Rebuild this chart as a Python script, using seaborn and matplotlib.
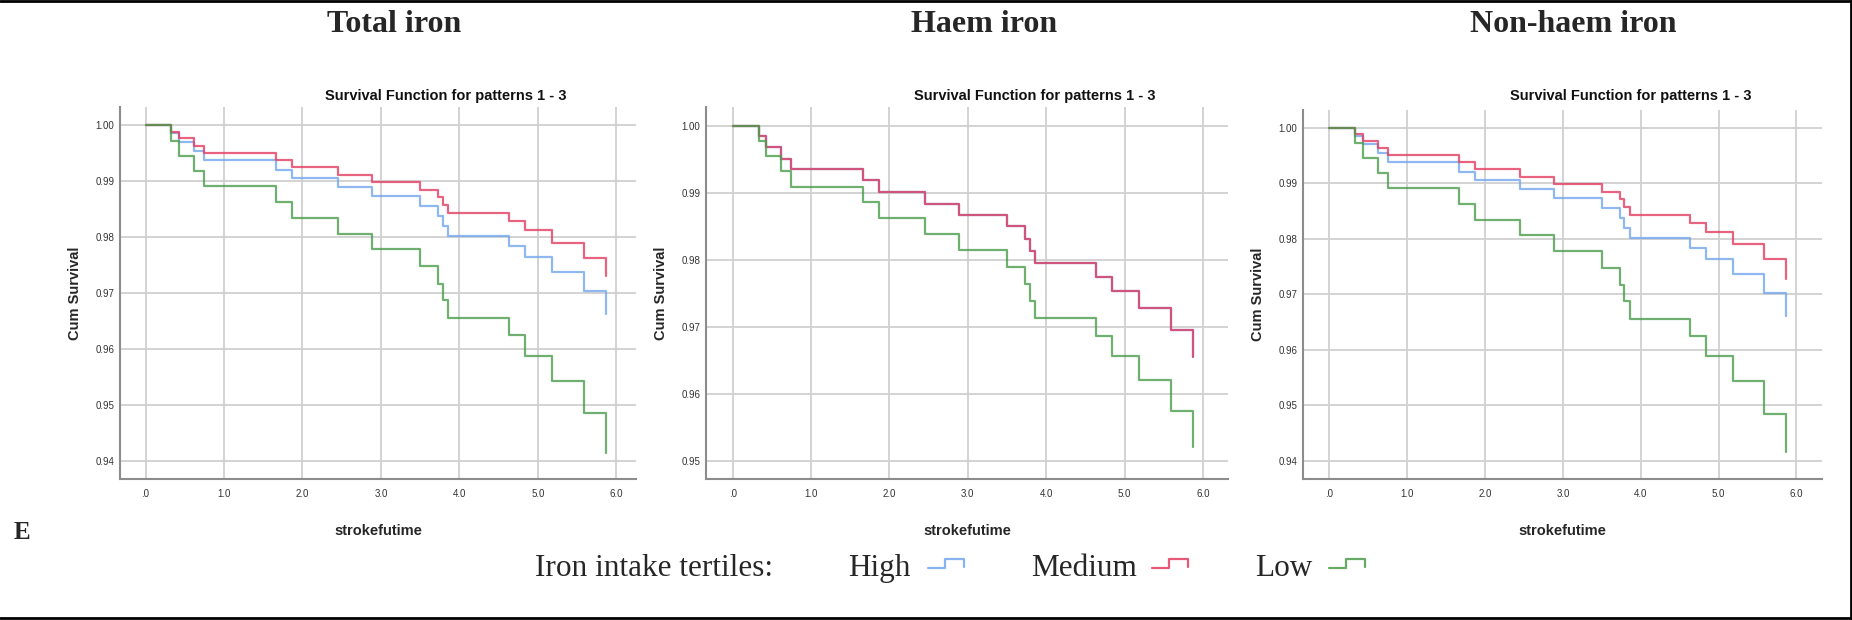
import matplotlib
matplotlib.use("Agg")
import matplotlib.pyplot as plt
from matplotlib.lines import Line2D
import seaborn as sns
import pandas as pd

# ---------------- data ----------------
event_times = [0.33, 0.43, 0.62, 0.75, 1.66, 1.87, 2.45, 2.89, 3.50, 3.73, 3.79,
               3.86, 4.63, 4.84, 5.18, 5.59, 5.87]

total_high = [0.9986, 0.9970, 0.9954, 0.9938, 0.9921, 0.9905, 0.9889, 0.9873, 0.9855,
              0.9838, 0.9820, 0.9802, 0.9784, 0.9764, 0.9737, 0.9703, 0.9662]
total_medium = [0.9989, 0.9977, 0.9964, 0.9951, 0.9938, 0.9926, 0.9912, 0.9899, 0.9885,
                0.9871, 0.9858, 0.9843, 0.9829, 0.9812, 0.9790, 0.9763, 0.9730]
total_low = [0.9973, 0.9945, 0.9918, 0.9891, 0.9863, 0.9834, 0.9806, 0.9778, 0.9748,
             0.9717, 0.9687, 0.9656, 0.9624, 0.9588, 0.9543, 0.9485, 0.9414]

haem_high = [0.9985, 0.9968, 0.9951, 0.9935, 0.9919, 0.9901, 0.9884, 0.9867, 0.9850,
             0.9831, 0.9813, 0.9795, 0.9775, 0.9754, 0.9728, 0.9695, 0.9655]
haem_medium = [0.9985, 0.9968, 0.9951, 0.9935, 0.9919, 0.9901, 0.9884, 0.9867, 0.9850,
               0.9831, 0.9813, 0.9795, 0.9775, 0.9754, 0.9728, 0.9695, 0.9655]
haem_low = [0.9978, 0.9955, 0.9932, 0.9909, 0.9886, 0.9862, 0.9838, 0.9815, 0.9789,
            0.9764, 0.9739, 0.9713, 0.9687, 0.9657, 0.9621, 0.9575, 0.9520]

nonhaem_high = [0.9986, 0.9970, 0.9954, 0.9938, 0.9921, 0.9905, 0.9889, 0.9873, 0.9855,
                0.9838, 0.9820, 0.9802, 0.9784, 0.9764, 0.9737, 0.9703, 0.9661]
nonhaem_medium = [0.9989, 0.9977, 0.9964, 0.9951, 0.9938, 0.9926, 0.9912, 0.9899, 0.9885,
                  0.9871, 0.9858, 0.9843, 0.9829, 0.9812, 0.9790, 0.9763, 0.9728]
nonhaem_low = [0.9973, 0.9945, 0.9918, 0.9891, 0.9863, 0.9834, 0.9806, 0.9778, 0.9748,
               0.9717, 0.9687, 0.9656, 0.9624, 0.9588, 0.9543, 0.9485, 0.9416]

groups = ["High", "Medium", "Low"]
panel_titles = ["Total iron", "Haem iron", "Non-haem iron"]
subtitle = "Survival Function for patterns 1 - 3"
x_ticks = [0, 1, 2, 3, 4, 5, 6]
x_tick_labels = [".0", "1.0", "2.0", "3.0", "4.0", "5.0", "6.0"]
y_ticks_a = [0.94, 0.95, 0.96, 0.97, 0.98, 0.99, 1.00]
y_ticks_b = [0.95, 0.96, 0.97, 0.98, 0.99, 1.00]
legend_title = "Iron intake tertiles:"

panels = [
    {"High": total_high, "Medium": total_medium, "Low": total_low},
    {"High": haem_high, "Medium": haem_medium, "Low": haem_low},
    {"High": nonhaem_high, "Medium": nonhaem_medium, "Low": nonhaem_low},
]

# ---------------- style ----------------
sns.set_style("white")
plt.rcParams["font.family"] = ["Liberation Sans", "DejaVu Sans"]

colors = {"High": "#72a6ec", "Medium": "#e23c60", "Low": "#4b9b4b"}

W, H = 1852, 620
fig = plt.figure(figsize=(W / 100, H / 100), dpi=100)

# axes pixel boxes: left, right, top, bottom
boxes = [(120, 636, 107, 479), (706, 1228, 107, 479), (1303, 1822, 110, 479)]
xlims = [(-0.325, 6.25), (-0.34, 6.32), (-0.34, 6.33)]
ylims = [(0.9367, 1.0033), (0.9473, 1.0028), (0.9367, 1.0032)]
yticks = [y_ticks_a, y_ticks_b, y_ticks_a]

for i, (data, box) in enumerate(zip(panels, boxes)):
    l, r, t, b = box
    ax = fig.add_axes([l / W, 1 - b / H, (r - l) / W, (b - t) / H])
    rows = []
    for g in groups:
        ts = [0.0] + event_times
        vs = [1.0] + data[g]
        for tt, vv in zip(ts, vs):
            rows.append({"time": tt, "surv": vv, "group": g})
    df = pd.DataFrame(rows)
    for g in groups:
        sns.lineplot(data=df[df.group == g], x="time", y="surv", ax=ax,
                     color=colors[g], lw=1.6, alpha=0.8, estimator=None,
                     sort=False, drawstyle="steps-post")
    ax.set_xlim(*xlims[i])
    ax.set_ylim(*ylims[i])
    ax.set_xticks(x_ticks)
    ax.set_xticklabels(x_tick_labels)
    ax.set_yticks(yticks[i])
    ax.set_yticklabels([f"{v:.2f}" for v in yticks[i]])
    ax.tick_params(axis="both", length=0, labelsize=7, labelcolor="#333333")
    ax.tick_params(axis="x", pad=7)
    ax.tick_params(axis="y", pad=4)
    ax.grid(True, color="#d0d0d0", lw=1.3)
    ax.set_axisbelow(True)
    for s in ["top", "right"]:
        ax.spines[s].set_visible(False)
    for s in ["left", "bottom"]:
        ax.spines[s].set_color("#8c8c8c")
        ax.spines[s].set_linewidth(1.5)
    ax.set_xlabel("strokefutime", fontsize=10.5, fontweight="bold", labelpad=18)
    ax.set_ylabel("Cum Survival", fontsize=10.5, fontweight="bold", labelpad=10)
    cx = (l + r) / 2
    # subtitle (SPSS chart title)
    fig.text((cx + 68) / W, 1 - 100 / H, subtitle, ha="center", va="baseline",
             fontsize=10.5, fontweight="bold", color="#111111")

# panel titles
title_x = [394, 984, 1573]
for tx, tt in zip(title_x, panel_titles):
    fig.text(tx / W, 1 - 32 / H, tt, ha="center", va="baseline",
             family="Liberation Serif", fontsize=23, fontweight="bold")

fig.text(14 / W, 1 - 539 / H, "E", ha="left", va="baseline",
         family="Liberation Serif", fontsize=18, fontweight="bold")

# legend row
base = 1 - 576 / H
fig.text(535 / W, base, legend_title, ha="left", va="baseline",
         family="Liberation Serif", fontsize=22.5)
leg_text_x = [848, 1031, 1255]
leg_icon_x = [928, 1152, 1329]
for g, txx, ix in zip(groups, leg_text_x, leg_icon_x):
    fig.text(txx / W, base, g, ha="left", va="baseline",
             family="Liberation Serif", fontsize=22.5)
    xs = [ix, ix + 17, ix + 17, ix + 36, ix + 36]
    ys = [568, 568, 559, 559, 567]
    fig.add_artist(Line2D([x / W for x in xs], [1 - y / H for y in ys],
                          color=colors[g], lw=1.6, alpha=0.85,
                          transform=fig.transFigure))

# frame lines (top, right, bottom)
fr = dict(color="black", lw=2, transform=fig.transFigure)
fig.add_artist(Line2D([0, 1], [1 - 0.8 / H, 1 - 0.8 / H], **fr))
fig.add_artist(Line2D([1 - 1.5 / W, 1 - 1.5 / W], [0, 1], **fr))
fig.add_artist(Line2D([0, 1], [2.5 / H, 2.5 / H], **fr))

fig.savefig("out.png", dpi=100)
